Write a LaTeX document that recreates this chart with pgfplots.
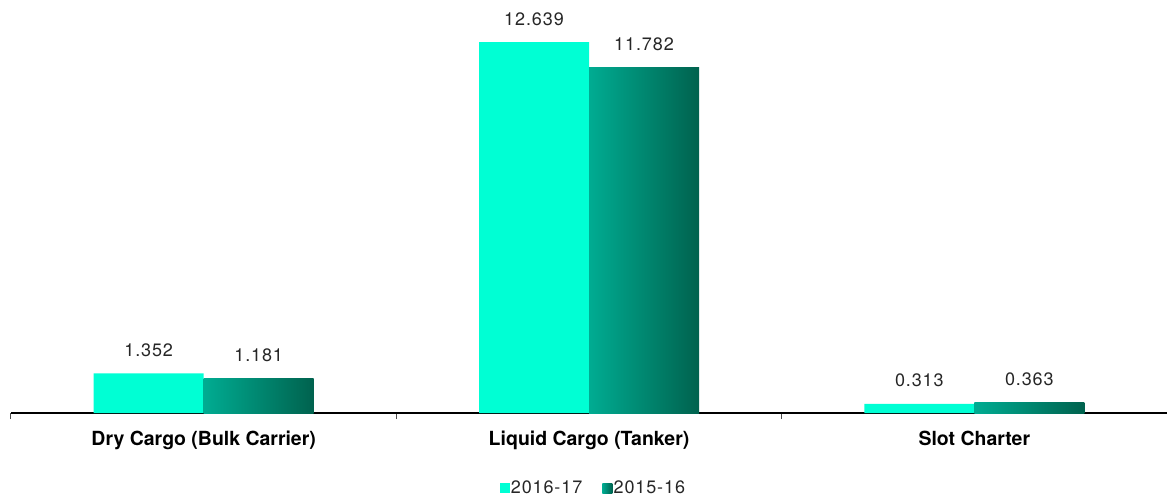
\documentclass[border=0pt]{standalone}
\usepackage{pgfplots}
\pgfplotsset{compat=1.18}
\usepackage{fontspec}
\setmainfont{TeX Gyre Heros}
\newfontfamily\numfont[LetterSpace=5]{TeX Gyre Heros}

\definecolor{aquaA}{RGB}{0,255,212}
\definecolor{tealL}{RGB}{0,172,146}
\definecolor{tealD}{RGB}{0,98,78}

\pgfplotstableread{
x  v
0  1.352
1  12.639
2  0.313
}\cur
\pgfplotstableread{
x  v
0  1.181
1  11.782
2  0.363
}\prev

\begin{document}
\begin{tikzpicture}
\begin{axis}[
  name=ax,
  scale only axis,
  width=867pt, height=309.75pt,
  xmin=-0.5, xmax=2.5,
  ymin=0, ymax=14.07,
  clip=false,
  axis y line=none,
  axis x line=bottom,
  x axis line style={-, line width=1.5pt, black},
  xtick={0,1,2},
  xticklabels={Dry Cargo (Bulk Carrier), Liquid Cargo (Tanker), Slot Charter},
  xticklabel style={font=\fontsize{14.6pt}{17pt}\selectfont\bfseries, anchor=base, yshift=-24pt},
  major tick length=0pt,
  minor xtick={-0.5,0.5,1.5},
  minor tick length=4.5pt,
  tick align=outside,
  minor tick style={line width=0.75pt, black!70},
  every axis plot/.append style={ybar, bar width=82.5pt, draw=none},
  nodes near coords,
  nodes near coords style={font=\numfont\fontsize{13.5pt}{15pt}\selectfont, anchor=base, yshift=12.75pt, inner sep=0pt, text=black!85,
    /pgf/number format/fixed, /pgf/number format/precision=3,
    /pgf/number format/fixed zerofill, /pgf/number format/assume math mode=true},
  legend columns=2,
  legend style={draw=none, fill=none, at={(0.504,-0.1816)}, anchor=center,
    font=\numfont\fontsize{13.5pt}{15pt}\selectfont, text=black!85,
    /tikz/every even column/.append style={column sep=13pt},
    /tikz/every odd column/.append style={column sep=-1pt}},
  legend image code/.code={\path[#1] (0pt,-3.75pt) rectangle (7.5pt,3.75pt);},
]
% current year
\addplot[fill=aquaA, bar shift=-41.25pt,
  every node near coord/.append style={xshift=-41.25pt}] table[x=x, y=v] {\cur};
\addlegendentry{2016-17}
% previous year, one bar per plot so every bar gets its own gradient
\addplot[left color=tealL, right color=tealD, bar shift=41.25pt,
  every node near coord/.append style={xshift=41.25pt},
  restrict x to domain=-0.1:0.1] table[x=x, y=v] {\prev};
\addlegendentry{2015-16}
\addplot[forget plot, left color=tealL, right color=tealD, bar shift=41.25pt,
  every node near coord/.append style={xshift=41.25pt},
  restrict x to domain=0.9:1.1] table[x=x, y=v] {\prev};
\addplot[forget plot, left color=tealL, right color=tealD, bar shift=41.25pt,
  every node near coord/.append style={xshift=41.25pt},
  restrict x to domain=1.9:2.1] table[x=x, y=v] {\prev};
\end{axis}
\pgfresetboundingbox
\path[use as bounding box] ([xshift=-8.25pt,yshift=-63pt]ax.south west) rectangle (ax.north east);
\end{tikzpicture}
\end{document}
